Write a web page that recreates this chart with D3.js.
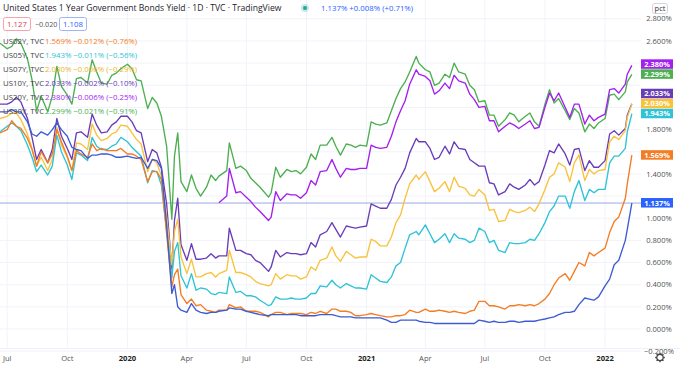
<!DOCTYPE html>
<html>
<head>
<meta charset="utf-8">
<script src="https://cdn.jsdelivr.net/npm/d3@7"></script>
<style>
  body { margin: 0; background: #fff; }
  svg { display: block; font-family: "Open Sans", "Noto Sans", sans-serif; }
</style>
</head>
<body>
<script>
// dates of the sampled points (about weekly, shared by all series)
var dates = [
  "2019-06-20",
  "2019-07-01","2019-07-08","2019-07-15","2019-07-22","2019-08-01","2019-08-08","2019-08-15","2019-08-22",
  "2019-09-01","2019-09-08","2019-09-15","2019-09-22","2019-10-01","2019-10-08","2019-10-15","2019-10-22",
  "2019-11-01","2019-11-08","2019-11-15","2019-11-22","2019-12-01","2019-12-08","2019-12-15","2019-12-22",
  "2020-01-01","2020-01-08","2020-01-15","2020-01-22","2020-02-01","2020-02-08","2020-02-15","2020-02-22",
  "2020-03-01","2020-03-09","2020-03-13","2020-03-18","2020-03-23","2020-04-01","2020-04-08","2020-04-15","2020-04-22",
  "2020-05-01","2020-05-08","2020-05-15","2020-05-20","2020-06-01","2020-06-05","2020-06-15","2020-06-22",
  "2020-07-01","2020-07-08","2020-07-15","2020-07-22","2020-08-04","2020-08-08","2020-08-15","2020-08-22",
  "2020-09-01","2020-09-08","2020-09-15","2020-09-22","2020-10-01","2020-10-08","2020-10-15","2020-10-22",
  "2020-11-01","2020-11-09","2020-11-15","2020-11-22","2020-12-01","2020-12-08","2020-12-15","2020-12-22",
  "2021-01-01","2021-01-08","2021-01-15","2021-01-22","2021-02-01","2021-02-08","2021-02-15","2021-02-22",
  "2021-03-01","2021-03-08","2021-03-18","2021-03-22","2021-04-01","2021-04-08","2021-04-15","2021-04-22",
  "2021-05-01","2021-05-08","2021-05-15","2021-05-22","2021-06-01","2021-06-08","2021-06-15","2021-06-22",
  "2021-07-01","2021-07-08","2021-07-15","2021-07-22","2021-08-01","2021-08-08","2021-08-15","2021-08-22",
  "2021-09-01","2021-09-08","2021-09-15","2021-09-22","2021-10-01","2021-10-08","2021-10-15","2021-10-22",
  "2021-11-01","2021-11-08","2021-11-15","2021-11-22","2021-12-01","2021-12-08","2021-12-15","2021-12-22",
  "2022-01-01","2022-01-08","2022-01-15","2022-01-22","2022-02-01","2022-02-04","2022-02-11"];

// yields in percent, one line per year
var us01y = [
  1.96, 1.96,1.98,1.96,1.96, 1.87,1.76,1.74,1.78, 1.75,1.80,1.86,1.80, 1.74,1.64,1.62,1.61, 1.54,1.57,1.57,1.58, 1.58,1.57,1.55,1.55,
  1.56,1.55,1.54,1.55, 1.45,1.53,1.52,1.45, 0.94,0.32,0.40,0.20,0.17, 0.15,0.23,0.17,0.15, 0.14,0.15,0.15,0.16, 0.17,0.19,0.18,0.18,
  0.16,0.15,0.14,0.13, 0.12,0.13,0.13,0.13, 0.13,0.13,0.13,0.12, 0.12,0.12,0.12,0.13, 0.13,0.13,0.12,0.11, 0.11,0.11,0.10,0.10,
  0.10,0.10,0.10,0.10, 0.08,0.06,0.06,0.08, 0.08,0.08,0.08,0.07, 0.06,0.06,0.05,0.05, 0.05,0.05,0.05,0.05, 0.05,0.05,0.05,0.08,
  0.07,0.06,0.07,0.06, 0.06,0.07,0.07,0.06, 0.07,0.07,0.07,0.08, 0.09,0.10,0.11,0.13, 0.15,0.15,0.16,0.22, 0.28,0.27,0.26,0.29,
  0.39,0.45,0.58,0.62, 0.80,0.90,1.137];
var us02y = [
  1.77, 1.80,1.88,1.83,1.81, 1.72,1.62,1.47,1.60, 1.50,1.58,1.80,1.69, 1.56,1.43,1.61,1.58, 1.55,1.67,1.61,1.63, 1.61,1.61,1.61,1.63,
  1.58,1.58,1.56,1.53, 1.33,1.42,1.42,1.35, 0.86,0.38,0.49,0.54,0.31, 0.23,0.27,0.21,0.22, 0.17,0.16,0.15,0.17, 0.17,0.22,0.19,0.20,
  0.16,0.16,0.16,0.15, 0.11,0.13,0.15,0.15, 0.13,0.14,0.14,0.14, 0.13,0.15,0.14,0.16, 0.14,0.18,0.18,0.16, 0.16,0.15,0.12,0.12,
  0.13,0.14,0.13,0.12, 0.11,0.11,0.12,0.12, 0.13,0.17,0.15,0.15, 0.18,0.16,0.16,0.17, 0.16,0.15,0.16,0.15, 0.14,0.16,0.17,0.25,
  0.25,0.21,0.21,0.20, 0.18,0.21,0.21,0.22, 0.21,0.22,0.21,0.23, 0.27,0.32,0.40,0.46, 0.50,0.44,0.52,0.60, 0.57,0.69,0.66,0.69,
  0.73,0.87,0.97,1.01, 1.18,1.31,1.569];
var us05y = [
  1.78, 1.83,1.86,1.83,1.79, 1.66,1.55,1.42,1.48, 1.39,1.47,1.75,1.60, 1.48,1.35,1.59,1.57, 1.52,1.73,1.65,1.62, 1.62,1.65,1.67,1.73,
  1.69,1.64,1.60,1.56, 1.32,1.43,1.42,1.30, 0.89,0.46,0.70,0.78,0.48, 0.37,0.50,0.35,0.37, 0.36,0.32,0.31,0.33, 0.32,0.47,0.33,0.34,
  0.30,0.30,0.29,0.26, 0.21,0.22,0.29,0.27, 0.27,0.28,0.27,0.27, 0.28,0.32,0.32,0.39, 0.38,0.44,0.40,0.37, 0.41,0.39,0.37,0.37,
  0.36,0.49,0.46,0.43, 0.42,0.47,0.57,0.60, 0.73,0.85,0.88,0.85, 0.94,0.86,0.78,0.81, 0.86,0.78,0.86,0.82, 0.81,0.78,0.80,0.91,
  0.88,0.78,0.80,0.71, 0.69,0.78,0.77,0.77, 0.78,0.81,0.80,0.86, 0.96,1.06,1.11,1.20, 1.20,1.09,1.24,1.34, 1.16,1.26,1.23,1.26,
  1.26,1.50,1.56,1.56, 1.63,1.78,1.943];
var us07y = [
  1.90, 1.92,1.95,1.95,1.89, 1.76,1.63,1.47,1.55, 1.43,1.53,1.82,1.66, 1.55,1.43,1.68,1.67, 1.62,1.85,1.75,1.70, 1.72,1.76,1.78,1.84,
  1.83,1.77,1.71,1.67, 1.42,1.53,1.50,1.38, 1.01,0.58,0.88,0.99,0.65, 0.50,0.63,0.47,0.47, 0.50,0.51,0.47,0.50, 0.53,0.71,0.51,0.51,
  0.49,0.47,0.43,0.41, 0.39,0.40,0.50,0.45, 0.49,0.48,0.48,0.45, 0.47,0.56,0.53,0.62, 0.64,0.74,0.66,0.61, 0.70,0.67,0.64,0.65,
  0.65,0.81,0.79,0.75, 0.75,0.83,0.96,1.03, 1.18,1.31,1.39,1.35, 1.42,1.33,1.24,1.27, 1.33,1.24,1.37,1.29, 1.27,1.21,1.20,1.26,
  1.21,1.07,1.08,0.97, 0.98,1.08,1.06,1.05, 1.07,1.10,1.06,1.13, 1.26,1.37,1.40,1.50, 1.46,1.33,1.50,1.57, 1.34,1.44,1.40,1.43,
  1.44,1.69,1.74,1.71, 1.79,1.91,2.030];
var us10y = [
  2.03, 2.03,2.05,2.09,2.05, 1.90,1.73,1.53,1.62, 1.50,1.62,1.90,1.74, 1.63,1.53,1.77,1.78, 1.73,1.94,1.84,1.77, 1.78,1.84,1.87,1.92,
  1.92,1.87,1.79,1.77, 1.51,1.62,1.59,1.46, 1.13,0.54,0.98,1.18,0.76, 0.62,0.77,0.63,0.63, 0.64,0.68,0.64,0.66, 0.66,0.91,0.71,0.71,
  0.68,0.67,0.62,0.60, 0.52,0.56,0.71,0.65, 0.69,0.68,0.68,0.67, 0.68,0.78,0.74,0.85, 0.88,0.96,0.90,0.83, 0.93,0.92,0.91,0.92,
  0.93,1.13,1.11,1.09, 1.09,1.17,1.30,1.37, 1.45,1.59,1.72,1.69, 1.69,1.63,1.53,1.55, 1.65,1.58,1.69,1.63, 1.62,1.53,1.50,1.47,
  1.47,1.32,1.31,1.21, 1.24,1.31,1.28,1.26, 1.30,1.35,1.30,1.33, 1.48,1.61,1.59,1.67, 1.58,1.48,1.62,1.63, 1.43,1.52,1.46,1.46,
  1.52,1.76,1.79,1.75, 1.81,1.93,2.033];
var us20y = [
  null, null,null,null,null, null,null,null,null, null,null,null,null, null,null,null,null, null,null,null,null, null,null,null,null,
  null,null,null,null, null,null,null,null, null,null,null,null,null, null,null,null,null, null,null,null,1.14, 1.20,1.45,1.23,1.24,
  1.19,1.15,1.10,1.06, 0.98,1.01,1.24,1.16, 1.22,1.21,1.21,1.18, 1.23,1.34,1.30,1.42, 1.43,1.53,1.45,1.37, 1.45,1.44,1.44,1.45,
  1.45,1.66,1.64,1.63, 1.64,1.74,1.87,1.97, 2.06,2.21,2.34,2.30, 2.28,2.24,2.12,2.15, 2.22,2.17,2.29,2.24, 2.22,2.12,2.07,2.00,
  2.01,1.88,1.88,1.78, 1.83,1.86,1.84,1.81, 1.85,1.88,1.81,1.82, 2.00,2.13,2.06,2.13, 2.00,1.91,2.03,2.03, 1.85,1.93,1.88,1.91,
  1.94,2.16,2.17,2.13, 2.21,2.30,2.380];
var us30y = [
  2.58, 2.53,2.55,2.62,2.58, 2.44,2.25,1.97,2.10, 1.96,2.10,2.37,2.19, 2.11,2.03,2.26,2.27, 2.22,2.43,2.32,2.22, 2.21,2.29,2.31,2.35,
  2.39,2.35,2.25,2.24, 1.99,2.09,2.04,1.92, 1.65,0.99,1.56,1.77,1.33, 1.24,1.39,1.27,1.20, 1.28,1.39,1.34,1.38, 1.43,1.68,1.45,1.47,
  1.43,1.36,1.32,1.28, 1.19,1.23,1.46,1.37, 1.44,1.42,1.43,1.40, 1.46,1.58,1.53,1.66, 1.66,1.73,1.65,1.57, 1.67,1.66,1.64,1.66,
  1.65,1.87,1.85,1.84, 1.86,1.97,2.08,2.17, 2.23,2.32,2.46,2.40, 2.34,2.32,2.20,2.22, 2.30,2.27,2.40,2.32, 2.30,2.20,2.16,2.05,
  2.06,1.93,1.93,1.83, 1.89,1.95,1.93,1.87, 1.92,1.95,1.87,1.83, 2.03,2.16,2.04,2.08, 1.97,1.89,1.99,1.95, 1.78,1.85,1.81,1.86,
  1.90,2.11,2.12,2.07, 2.14,2.23,2.299];

// legend texts
var legendNames = ["US02Y, TVC","US05Y, TVC","US07Y, TVC","US10Y, TVC","US20Y, TVC","US30Y, TVC"];
var legendValues = ["1.569%","1.943%","2.030%","2.033%","2.380%","2.299%"];
var legendChanges = ["\u22120.012%","\u22120.011%","\u22120.006%","\u22120.002%","\u22120.006%","\u22120.021%"];
var legendPcts = ["(\u22120.76%)","(\u22120.56%)","(\u22120.29%)","(\u22120.10%)","(\u22120.25%)","(\u22120.91%)"];

// axis ticks
var yTicks = [-0.2,0,0.2,0.4,0.6,0.8,1.0,1.2,1.4,1.6,1.8,2.0,2.2,2.4,2.6,2.8];
var xTicks = ["2019-07-01","2019-10-01","2020-01-01","2020-04-01","2020-07-01","2020-10-01",
  "2021-01-01","2021-04-01","2021-07-01","2021-10-01","2022-01-01"];
var xTickLabels = ["Jul","Oct","2020","Apr","Jul","Oct","2021","Apr","Jul","Oct","2022"];

// chart settings
var w = 680, h = 369;
var plotRight = 641;
var parse = d3.timeParse("%Y-%m-%d");

var x = d3.scaleTime()
  .domain([parse("2019-06-20"), parse("2022-02-25")])
  .range([0, plotRight]);
var y = d3.scaleLinear()
  .domain([0, 2.8])
  .range([329, 18.8]);

var series = [
  {name: "US30Y", values: us30y, color: "#4caf50"},
  {name: "US20Y", values: us20y, color: "#a31ff0"},
  {name: "US10Y", values: us10y, color: "#6a3db8"},
  {name: "US07Y", values: us07y, color: "#f9c23c"},
  {name: "US05Y", values: us05y, color: "#2ec3d6"},
  {name: "US02Y", values: us02y, color: "#f47c22"},
  {name: "US01Y", values: us01y, color: "#3d5bd4"}
];
var legendColors = ["#f47c22","#2ec3d6","#f0b429","#6a3db8","#a31ff0","#4caf50"];

var svg = d3.select("body").append("svg")
  .attr("width", w)
  .attr("height", h);

// grid
svg.append("g").selectAll("line")
  .data(xTicks).enter().append("line")
  .attr("x1", function(d) { return x(parse(d)); })
  .attr("x2", function(d) { return x(parse(d)); })
  .attr("y1", 0).attr("y2", 348)
  .attr("stroke", "#f0f3fa");
svg.append("g").selectAll("line")
  .data(yTicks).enter().append("line")
  .attr("x1", 0).attr("x2", plotRight)
  .attr("y1", function(d) { return y(d); })
  .attr("y2", function(d) { return y(d); })
  .attr("stroke", "#f0f3fa");

// price line of the main symbol
svg.append("line")
  .attr("x1", 0).attr("x2", plotRight)
  .attr("y1", y(us01y[us01y.length - 1])).attr("y2", y(us01y[us01y.length - 1]))
  .attr("stroke", "#9aa9e6").attr("stroke-width", 1);

// lines
var line = d3.line()
  .defined(function(d) { return d.v !== null; })
  .x(function(d) { return x(d.date); })
  .y(function(d) { return y(d.v); });

series.forEach(function(s) {
  var pts = dates.map(function(d, i) { return {date: parse(d), v: s.values[i]}; });
  svg.append("path")
    .datum(pts)
    .attr("d", line)
    .attr("fill", "none")
    .attr("stroke", s.color)
    .attr("stroke-width", 1.35)
    .attr("stroke-linejoin", "round");
});

// last value labels, pushed up when they overlap
var labels = series.map(function(s) {
  var v = s.values[s.values.length - 1];
  return {v: v, color: s.name === "US01Y" ? "#2962ff" : s.color, ty: y(v)};
}).sort(function(a, b) { return b.ty - a.ty; });
var boxH = 10;
for (var i = 1; i < labels.length; i++) {
  if (labels[i - 1].ty - labels[i].ty < boxH) labels[i].ty = labels[i - 1].ty - boxH;
}

// right price scale
svg.append("rect")
  .attr("x", plotRight).attr("y", 0)
  .attr("width", w - plotRight).attr("height", h)
  .attr("fill", "#fff");
var shownTicks = yTicks.filter(function(t) {
  return labels.every(function(l) { return Math.abs(y(t) - l.ty) > 8.5; });
});
svg.append("g").selectAll("text")
  .data(shownTicks).enter().append("text")
  .attr("x", 659).attr("y", function(d) { return y(d); })
  .attr("dy", "0.35em")
  .attr("text-anchor", "middle")
  .attr("font-size", 7.6)
  .attr("fill", "#555")
  .text(function(d) { return d3.format(".3f")(d).replace("-", "\u2212") + "%"; });

// pct box
svg.append("rect")
  .attr("x", 652.5).attr("y", 3.5).attr("width", 15).attr("height", 10).attr("rx", 2)
  .attr("fill", "#fff").attr("stroke", "#d1d4dc");
svg.append("text")
  .attr("x", 660).attr("y", 11)
  .attr("text-anchor", "middle").attr("font-size", 7.5).attr("fill", "#333")
  .text("pct");

var lab = svg.append("g").selectAll("g")
  .data(labels).enter().append("g");
lab.append("rect")
  .attr("x", 641).attr("y", function(d) { return d.ty - boxH / 2; })
  .attr("width", 32).attr("height", boxH - 0.5)
  .attr("fill", function(d) { return d.color; });
lab.append("text")
  .attr("x", 657).attr("y", function(d) { return d.ty; })
  .attr("dy", "0.35em").attr("text-anchor", "middle")
  .attr("font-size", 7.4).attr("font-weight", "bold").attr("fill", "#fff")
  .text(function(d) { return d3.format(".3f")(d.v) + "%"; });

// time axis
svg.append("line")
  .attr("x1", 0).attr("x2", w).attr("y1", 348.5).attr("y2", 348.5)
  .attr("stroke", "#eef0f5");
svg.append("g").selectAll("text")
  .data(xTicks).enter().append("text")
  .attr("x", function(d) { return x(parse(d)); })
  .attr("y", 358).attr("dy", "0.35em")
  .attr("text-anchor", "middle")
  .attr("font-size", 7.6)
  .attr("font-weight", function(d, i) { return xTickLabels[i].length === 4 ? "bold" : "normal"; })
  .attr("fill", function(d, i) { return xTickLabels[i].length === 4 ? "#222" : "#555"; })
  .text(function(d, i) { return xTickLabels[i]; });

// settings gear
var gear = svg.append("g").attr("transform", "translate(660,357.5)");
gear.append("circle").attr("r", 3.2).attr("fill", "none").attr("stroke", "#444").attr("stroke-width", 1.2);
d3.range(8).forEach(function(k) {
  var a = k * Math.PI / 4;
  gear.append("line")
    .attr("x1", Math.cos(a) * 3.2).attr("y1", Math.sin(a) * 3.2)
    .attr("x2", Math.cos(a) * 4.8).attr("y2", Math.sin(a) * 4.8)
    .attr("stroke", "#444").attr("stroke-width", 1.3);
});

// header
svg.append("text")
  .attr("x", 3).attr("y", 11)
  .attr("font-size", 8.6).attr("fill", "#1e222d")
  .text("United States 1 Year Government Bonds Yield \u00b7 1D \u00b7 TVC \u00b7 TradingView");
svg.append("circle").attr("cx", 305).attr("cy", 8).attr("r", 4).attr("fill", "#26a69a").attr("opacity", 0.25);
svg.append("circle").attr("cx", 305).attr("cy", 8).attr("r", 2).attr("fill", "#26a69a");
svg.append("text")
  .attr("x", 321).attr("y", 11)
  .attr("font-size", 7.8).attr("fill", "#2962ff")
  .text("1.137%  +0.008%  (+0.71%)");

// second header row
svg.append("rect").attr("x", 3.5).attr("y", 17.5).attr("width", 27).attr("height", 13).attr("rx", 2)
  .attr("fill", "#fff").attr("stroke", "#f7a1a8");
svg.append("text").attr("x", 17).attr("y", 27).attr("text-anchor", "middle")
  .attr("font-size", 7.8).attr("fill", "#e53945").text("1.127");
svg.append("text").attr("x", 35).attr("y", 27)
  .attr("font-size", 7.2).attr("fill", "#555").text("\u22120.020");
svg.append("rect").attr("x", 59.5).attr("y", 17.5).attr("width", 27).attr("height", 13).attr("rx", 2)
  .attr("fill", "#fff").attr("stroke", "#9fb4f2");
svg.append("text").attr("x", 73).attr("y", 27).attr("text-anchor", "middle")
  .attr("font-size", 7.8).attr("fill", "#2962ff").text("1.108");

// legend rows
legendNames.forEach(function(n, i) {
  var ly = 44 + i * 14;
  svg.append("text").attr("x", 3).attr("y", ly)
    .attr("font-size", 7.8).attr("fill", "#444").text(n);
  svg.append("text").attr("x", 45).attr("y", ly)
    .attr("font-size", 7.8).attr("fill", legendColors[i])
    .text(legendValues[i] + "  " + legendChanges[i] + "  " + legendPcts[i]);
});
</script>
</body>
</html>
